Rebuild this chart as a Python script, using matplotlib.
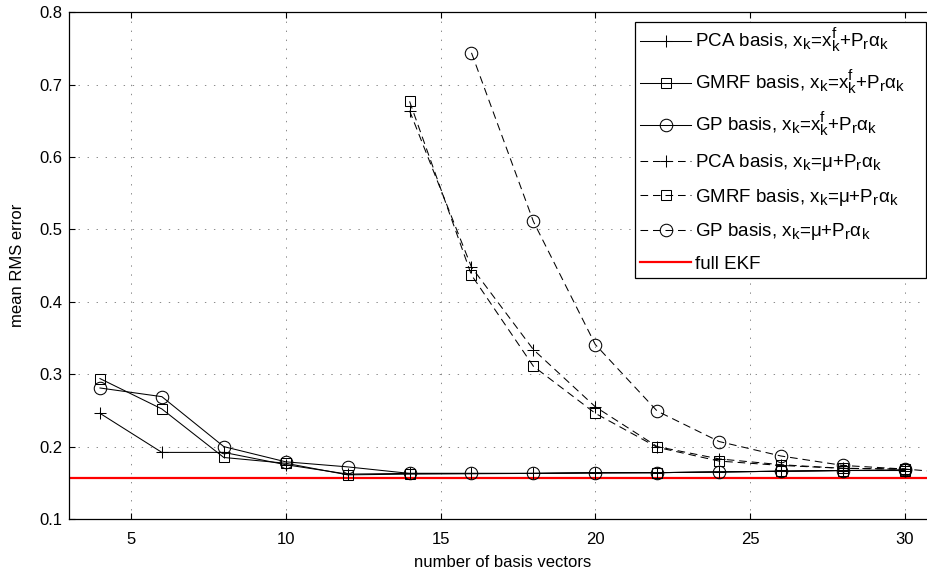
import matplotlib
matplotlib.use("Agg")
import matplotlib.pyplot as plt

try:
    from matplotlib import _mathtext
    _mathtext.SHRINK_FACTOR = 0.8
    _mathtext.FontConstantsBase.sup1 = 0.35
except Exception:
    pass

plt.rcParams['font.family'] = ['Liberation Sans', 'DejaVu Sans']
plt.rcParams['mathtext.fontset'] = 'custom'
plt.rcParams['mathtext.rm'] = 'Liberation Sans'
plt.rcParams['mathtext.it'] = 'Liberation Sans'
plt.rcParams['mathtext.bf'] = 'Liberation Sans:bold'
plt.rcParams['lines.scale_dashes'] = False

# ---- data ----
x_all = [4, 6, 8, 10, 12, 14, 16, 18, 20, 22, 24, 26, 28, 30]
pca_f = [0.246, 0.192, 0.192, 0.175, 0.162, 0.163, 0.163, 0.163, 0.164, 0.164, 0.165, 0.166, 0.167, 0.167]
x_gmrf_f = [4, 6, 8, 10, 12, 14, 22, 26, 28, 30]
gmrf_f = [0.294, 0.252, 0.185, 0.177, 0.161, 0.162, 0.164, 0.166, 0.167, 0.167]
gp_f = [0.281, 0.269, 0.200, 0.179, 0.172, 0.163, 0.163, 0.163, 0.164, 0.164, 0.165, 0.166, 0.167, 0.168]

x_pca_mu = [14, 16, 18, 20, 22, 24, 26, 28, 30]
pca_mu = [0.664, 0.448, 0.334, 0.255, 0.200, 0.183, 0.175, 0.170, 0.169]
x_gmrf_mu = [14, 16, 18, 20, 22, 24, 26, 28, 30]
gmrf_mu = [0.677, 0.437, 0.311, 0.246, 0.199, 0.180, 0.174, 0.170, 0.169]
x_gp_mu = [16, 18, 20, 22, 24, 26, 28, 30, 32]
gp_mu = [0.744, 0.511, 0.341, 0.249, 0.207, 0.187, 0.174, 0.169, 0.162]

full_ekf = 0.157

labels = [
    r'PCA basis, $\mathregular{x_k}$=$\mathregular{x_k^f}$+$\mathregular{P_r\alpha_k}$',
    r'GMRF basis, $\mathregular{x_k}$=$\mathregular{x_k^f}$+$\mathregular{P_r\alpha_k}$    ',
    r'GP basis, $\mathregular{x_k}$=$\mathregular{x_k^f}$+$\mathregular{P_r\alpha_k}$',
    r'PCA basis, $\mathregular{x_k}$=$\mathregular{\mu}$+$\mathregular{P_r\alpha_k}$',
    r'GMRF basis, $\mathregular{x_k}$=$\mathregular{\mu}$+$\mathregular{P_r\alpha_k}$',
    r'GP basis, $\mathregular{x_k}$=$\mathregular{\mu}$+$\mathregular{P_r\alpha_k}$',
    'full EKF',
]

xticks = [5, 10, 15, 20, 25, 30]
yticks = [0.1, 0.2, 0.3, 0.4, 0.5, 0.6, 0.7, 0.8]

W, H = 928, 575
fig = plt.figure(figsize=(W / 100, H / 100), dpi=100)
RIGHT = 936
ax = fig.add_axes([69 / W, 56 / H, (RIGHT - 69) / W, 506.7 / H])

lw = 0.75
dash = (5.5, 3.5)
common = dict(color='black', lw=lw, mfc='none', mec='black', mew=0.75)

ax.plot(x_all, pca_f, marker='+', ms=9, label=labels[0], **common)
ax.plot(x_gmrf_f, gmrf_f, marker='s', ms=7, label=labels[1], **common)
ax.plot(x_all, gp_f, marker='o', ms=9, label=labels[2], **common)
ax.plot(x_pca_mu, pca_mu, marker='+', ms=9, ls=(0, dash), label=labels[3], **common)
ax.plot(x_gmrf_mu, gmrf_mu, marker='s', ms=7, ls=(0, dash), label=labels[4], **common)
ax.plot(x_gp_mu, gp_mu, marker='o', ms=9, ls=(0, dash), label=labels[5], **common)
ax.axhline(full_ekf, color='red', lw=1.6, label=labels[6], zorder=1)

ax.set_xlim(3, 3 + (RIGHT - 69) / 30.96)
ax.set_ylim(0.1, 0.8)
ax.set_xticks(xticks)
ax.set_yticks(yticks)
ax.set_xticklabels([str(v) for v in xticks])
ax.set_yticklabels(['%.1f' % v for v in yticks])

ax.grid(True, color='#8a8a8a', lw=0.7, ls=(0, (1, 5.5)))
ax.set_axisbelow(True)
ax.tick_params(direction='in', length=4, width=0.8, top=True, right=False,
               labelsize=12, colors='black')
ax.tick_params(axis='x', pad=9)
ax.tick_params(axis='y', pad=5)
for s in ax.spines.values():
    s.set_linewidth(0.9)
ax.spines['right'].set_visible(False)

ax.set_xlabel('number of basis vectors', fontsize=12, labelpad=6)
ax.set_ylabel('mean RMS error', fontsize=12, labelpad=10)

leg = fig.legend(loc='upper right', bbox_to_anchor=(926 / W, (H - 22) / H),
                 bbox_transform=fig.transFigure, fontsize=13.5, numpoints=1,
                 handlelength=2.72, handletextpad=0.2, labelspacing=0.72,
                 borderpad=0.25, borderaxespad=0, fancybox=False, framealpha=1)
leg.get_frame().set_edgecolor('black')
leg.get_frame().set_linewidth(0.9)

fig.savefig('out.png', dpi=100)
